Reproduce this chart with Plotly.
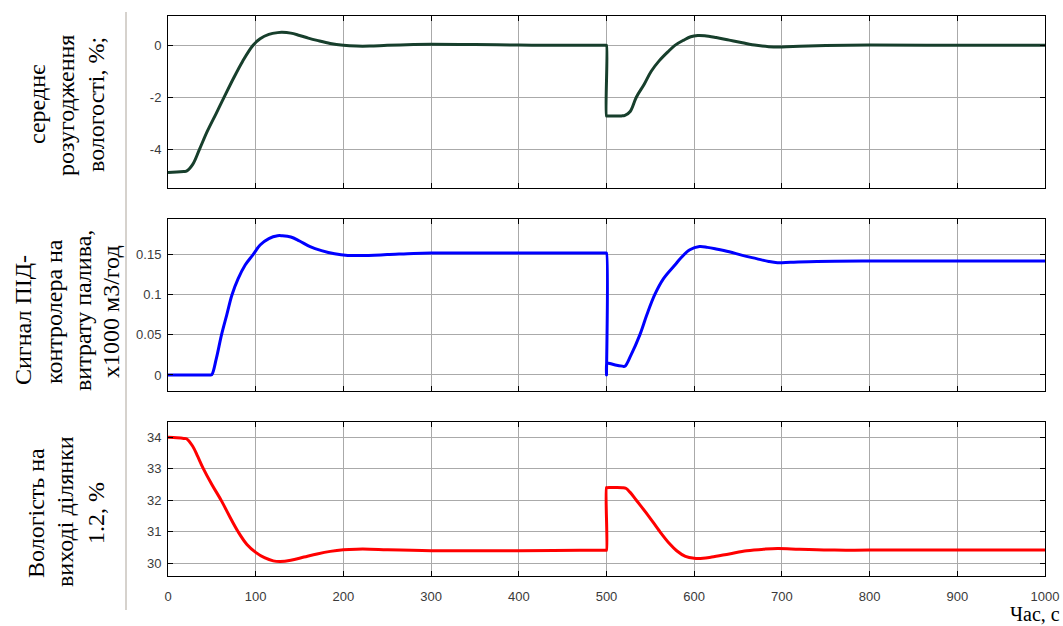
import plotly.graph_objects as go
from plotly.subplots import make_subplots

# ---------------- data ----------------
t_dev = [0, 10, 18, 21, 28, 36, 45, 55, 64, 75, 85, 97, 105, 115, 125, 130, 140, 150, 160, 170, 185,
         200, 215, 230, 250, 280, 300, 350, 400, 450, 499.5, 500, 500, 500.5, 517, 521, 527, 534, 543, 551,
         560, 570, 578, 588, 596, 604, 612, 625, 640, 655, 671, 685, 700, 720, 750, 800, 900, 1000]
dev = [-4.9, -4.88, -4.86, -4.85, -4.6, -4.0, -3.3, -2.62, -2.0, -1.25, -0.62, 0.0, 0.25, 0.42, 0.49, 0.5,
       0.47, 0.38, 0.28, 0.19, 0.07, 0.0, -0.03, -0.03, 0.0, 0.03, 0.04, 0.03, 0.01, 0.0, 0.0, 0.0,
       -2.72, -2.72, -2.72, -2.7, -2.55, -2.0, -1.5, -1.0, -0.6, -0.25, 0.0, 0.2, 0.33, 0.38, 0.37, 0.3,
       0.2, 0.1, 0.0, -0.05, -0.06, -0.04, -0.01, 0.01, 0.0, 0.0]

t_pid = [0, 40, 48, 50, 55, 61, 67, 73, 80, 88, 97, 105, 115, 125, 130, 140, 150, 162, 175, 190, 205,
         220, 250, 280, 300, 400, 499.5, 500, 500, 500.3, 501, 510, 518, 521, 528, 538, 546, 555, 565, 578,
         585, 595, 606, 615, 625, 640, 655, 671, 685, 695, 710, 740, 800, 1000]
pid = [0.0, 0.0, 0.0, 0.0005, 0.02, 0.05, 0.075, 0.1, 0.12, 0.137, 0.15, 0.162, 0.17, 0.1735, 0.1735,
       0.172, 0.167, 0.16, 0.155, 0.151, 0.149, 0.1488, 0.150, 0.1515, 0.152, 0.152, 0.152, 0.152, 0.0,
       0.015, 0.015, 0.0125, 0.011, 0.0108, 0.025, 0.05, 0.075, 0.1, 0.12, 0.137, 0.146, 0.156, 0.160,
       0.159, 0.157, 0.1535, 0.149, 0.145, 0.1415, 0.140, 0.1405, 0.1415, 0.142, 0.142]

t_hum = [0, 10, 18, 21, 28, 34, 40, 50, 61, 70, 80, 90, 100, 110, 120, 128, 140, 155, 170, 185, 200,
         215, 230, 250, 300, 400, 499.5, 500, 500, 500.5, 518, 522, 527, 534, 548, 561, 572, 580, 590,
         600, 610, 620, 640, 660, 680, 695, 720, 760, 800, 1000]
hum = [34.0, 33.98, 33.96, 33.95, 33.72, 33.38, 33.02, 32.5, 31.98, 31.5, 31.0, 30.6, 30.35, 30.18, 30.08,
       30.06, 30.1, 30.2, 30.3, 30.38, 30.43, 30.45, 30.45, 30.43, 30.4, 30.4, 30.42, 30.42, 32.4, 32.4,
       32.4, 32.38, 32.25, 32.0, 31.5, 31.0, 30.62, 30.4, 30.22, 30.16, 30.16, 30.2, 30.3, 30.4, 30.45,
       30.47, 30.45, 30.42, 30.42, 30.42]

x_ticks = [0, 100, 200, 300, 400, 500, 600, 700, 800, 900, 1000]
y1_ticks = [-4, -2, 0]
y1_labels = ["-4", "-2", "0"]
y2_ticks = [0, 0.05, 0.1, 0.15]
y2_labels = ["0", "0.05", "0.1", "0.15"]
y3_ticks = [30, 31, 32, 33, 34]
y3_labels = ["30", "31", "32", "33", "34"]

# ---------------- figure ----------------
W, H = 1063, 626
def px(x):
    return x / W
def py(y):
    return 1 - y / H

fig = make_subplots(rows=3, cols=1)
line_common = dict(width=3, shape="spline", smoothing=1.0)
fig.add_trace(go.Scatter(x=t_dev, y=dev, mode="lines", line=dict(color="#173f2c", **line_common)), row=1, col=1)
fig.add_trace(go.Scatter(x=t_pid, y=pid, mode="lines", line=dict(color="#0000ff", **line_common)), row=2, col=1)
fig.add_trace(go.Scatter(x=t_hum, y=hum, mode="lines", line=dict(color="#ff0000", **line_common)), row=3, col=1)

tickfont = dict(family="Liberation Sans, Arial", size=13, color="#3a3a3a")
common = dict(showline=True, linecolor="black", linewidth=1, mirror="ticks", ticks="inside",
              ticklen=5, tickcolor="black", showgrid=True, gridcolor="#aaaaaa", gridwidth=1,
              zeroline=False, tickfont=tickfont, automargin=False)

x_dom = [px(168), px(1045)]
ydoms = [[py(188), py(15.5)], [py(391), py(218.5)], [py(576), py(422)]]

for i in range(3):
    fig.update_xaxes(range=[0, 1000], tickvals=x_ticks, ticktext=[str(v) for v in x_ticks],
                     domain=x_dom, showticklabels=(i == 2), ticklabelstandoff=8,
                     **common, row=i + 1, col=1)

fig.update_yaxes(range=[-5.5, 1.15], tickvals=y1_ticks, ticktext=y1_labels, domain=ydoms[0],
                 ticklabelstandoff=3, **common, row=1, col=1)
fig.update_yaxes(range=[-0.02, 0.195], tickvals=y2_ticks, ticktext=y2_labels, domain=ydoms[1],
                 ticklabelstandoff=3, **common, row=2, col=1)
fig.update_yaxes(range=[29.6, 34.48], tickvals=y3_ticks, ticktext=y3_labels, domain=ydoms[2],
                 ticklabelstandoff=3, **common, row=3, col=1)

serif = "Liberation Serif, Times New Roman"
def vlabel(text, xc, yc, size=24):
    fig.add_annotation(x=px(xc), y=py(yc), xref="paper", yref="paper", text=text, textangle=-90,
                       showarrow=False, xanchor="center", yanchor="middle",
                       font=dict(family=serif, size=size, color="black"))

vlabel("середнє", 37, 105)
vlabel("розугодження", 66, 106)
vlabel("вологості, %;", 96, 105)

vlabel("Сигнал ПІД-", 23, 320)
vlabel("контролера на", 54, 312)
vlabel("витрату палива,", 83, 311)
vlabel("х1000 м3/год", 111, 312)

vlabel("Вологість на", 36, 513)
vlabel("виході ділянки", 65, 512)
vlabel("1.2, %", 96, 513)

fig.add_annotation(x=px(1061), y=py(626), xref="paper", yref="paper", text="Час, с", showarrow=False,
                   xanchor="right", yanchor="bottom", borderpad=0,
                   font=dict(family=serif, size=20, color="black"))

fig.add_shape(type="line", xref="paper", yref="paper", x0=px(126), x1=px(126), y0=py(12), y1=py(610),
              line=dict(color="#d6d2cd", width=2))

fig.update_layout(width=W, height=H, margin=dict(l=0, r=0, t=0, b=0, autoexpand=False), showlegend=False,
                  plot_bgcolor="white", paper_bgcolor="white")

post = "document.body.style.margin='0';document.body.style.padding='0';"

fig.write_html("out.html", config={"displayModeBar": False}, post_script=post)
